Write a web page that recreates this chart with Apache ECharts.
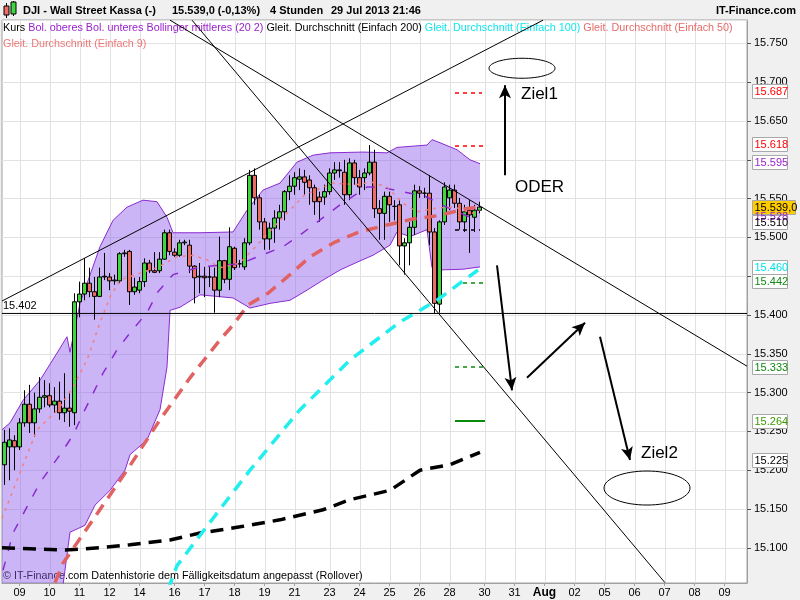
<!DOCTYPE html>
<html><head><meta charset="utf-8">
<script src="https://cdn.jsdelivr.net/npm/echarts/dist/echarts.min.js"></script>
<style>html,body{margin:0;padding:0;background:#f0f0f0}#c{width:800px;height:600px}</style>
</head><body><div id="c"></div><script>
// ---------- DATA ----------
const dayLabels = ['08','09','10','11','12','14','15','16','17','18','19','21','22','23','24','25','26','28','29','30','31','Aug','02','05','06','07','08','09'];
const daySlots  = [3,6,6,6,6,1,6,6,6,6,6,1,6,6,6,6,6,1,6,6,6,6,6,6,6,6,6,5];

// 4h candles: [open, close, low, high]
const candles = [
[15207,15236,15181,15252],[15230,15239,15187,15254],[15238,15230,15200,15245],[15230,15261,15226,15267],
[15261,15285,15256,15303],[15285,15261,15248,15310],[15261,15279,15243,15300],[15279,15294,15274,15320],
[15294,15296,15281,15316],[15296,15284,15281,15312],[15284,15289,15274,15307],[15289,15274,15265,15314],
[15274,15280,15262,15325],[15280,15276,15256,15300],[15274,15417,15258,15428],[15417,15427,15397,15443],
[15427,15441,15419,15473],[15441,15430,15423,15461],[15430,15424,15394,15449],[15424,15449,15423,15461],
[15450,15449,15445,15480],[15449,15444,15432,15454],[15444,15445,15439,15452],[15444,15479,15441,15481],
[15480,15479,15475,15484],[15482,15430,15413,15484],[15430,15436,15426,15448],[15432,15443,15428,15449],
[15443,15467,15436,15473],[15467,15457,15454,15471],[15457,15455,15454,15481],[15457,15472,15454,15481],
[15472,15506,15471,15510],[15506,15482,15477,15510],[15481,15477,15475,15486],[15477,15493,15475,15497],
[15493,15494,15490,15497],[15490,15463,15454,15497],[15463,15448,15415,15464],[15449,15450,15428,15467],
[15450,15448,15423,15462],[15449,15449,15436,15462],[15449,15432,15403,15461],[15432,15470,15423,15501],
[15470,15446,15441,15471],[15446,15488,15432,15513],[15486,15461,15458,15488],[15466,15466,15461,15471],
[15462,15493,15458,15499],[15493,15580,15490,15587],[15580,15551,15542,15589],[15551,15520,15510,15555],
[15520,15498,15484,15525],[15498,15512,15484,15519],[15512,15525,15493,15535],[15525,15533,15510,15542],
[15533,15559,15522,15561],[15559,15566,15548,15580],[15566,15577,15555,15584],[15575,15578,15561,15589],
[15578,15571,15555,15587],[15574,15564,15542,15580],[15564,15546,15529,15568],[15552,15546,15520,15559],
[15552,15559,15542,15568],[15559,15583,15555,15589],[15583,15587,15574,15597],[15587,15586,15577,15597],
[15584,15555,15542,15600],[15555,15596,15548,15602],[15596,15577,15568,15600],[15577,15565,15555,15587],
[15577,15583,15561,15589],[15583,15597,15580,15619],[15597,15537,15525,15613],[15537,15531,15497,15548],
[15531,15553,15497,15559],[15553,15542,15520,15559],[15540,15540,15522,15548],[15542,15489,15464,15548],
[15489,15493,15452,15499],[15493,15513,15464,15520],[15513,15560,15503,15568],[15560,15557,15551,15566],
[15557,15557,15551,15564],[15557,15507,15490,15580],[15507,15415,15402,15512],[15414,15520,15403,15522],
[15520,15565,15516,15571],[15551,15561,15535,15568],[15561,15544,15538,15568],[15544,15520,15510,15551],
[15520,15533,15507,15542],[15535,15529,15480,15548],[15526,15535,15507,15542],[15535,15539,15531,15546]
];

// indicators: [slot, value]
const bbUpper = [[-0.5,15252],[1.1,15261],[3.7,15290],[7.1,15316],[10.5,15351],[12.5,15372],[13.1,15352],[15.1,15415],[19.1,15488],[21.7,15522],[24.5,15539],[27.7,15548],[30.5,15546],[32.5,15526],[33.7,15506],[39.1,15506],[45.7,15507],[48.5,15535],[51.7,15561],[55.1,15570],[58.5,15597],[61.7,15606],[65.1,15609],[71.7,15610],[76.5,15609],[78.5,15616],[84.5,15619],[85.5,15626],[87.1,15622],[90.5,15613],[93.1,15600],[95.1,15595]];
const bbLower = [[-0.5,14870],[5.1,15022],[11.7,15052],[13.1,15120],[16.1,15129],[18.1,15155],[21.1,15174],[24.1,15200],[25.1,15220],[28.5,15239],[31.1,15278],[32.5,15333],[33.1,15406],[35.1,15410],[39.1,15426],[45.7,15422],[49.1,15409],[53.1,15415],[57.1,15419],[60.5,15432],[63.7,15445],[67.1,15458],[70.5,15468],[73.7,15477],[77.1,15490],[78.5,15507],[81.1,15501],[84.5,15510],[85.5,15461],[86.5,15458],[91.7,15459],[95.1,15462]];
const bbMid = [[-0.3,15071],[1.7,15119],[7.1,15184],[11.1,15220],[13.7,15245],[16.1,15278],[19.7,15325],[22.5,15355],[25.1,15377],[28.5,15403],[30.7,15430],[33.7,15452],[39.1,15462],[47.1,15466],[55.7,15488],[59.1,15503],[67.1,15542],[72.5,15565],[75.1,15565],[79.5,15559],[84.1,15553],[88.1,15540],[93.1,15526],[95.1,15528]];
const ma9 = [[-0.5,15138],[2.5,15187],[6.5,15252],[10.7,15278],[13.7,15307],[16.5,15342],[19.1,15390],[21.1,15423],[23.1,15445],[27.1,15454],[30.5,15461],[34.5,15475],[37.7,15477],[40.5,15471],[43.1,15461],[47.1,15467],[50.5,15490],[55.1,15522],[60.1,15555],[65.7,15570],[70.1,15568],[73.5,15571],[76.5,15565],[79.7,15544],[82.5,15533],[86.5,15538],[90.1,15539],[93.5,15531],[95.1,15535]];
const ma50 = [[10.1,15055],[11.7,15080],[18.1,15140],[24.5,15200],[31.1,15265],[37.1,15319],[43.1,15368],[45.7,15387],[48.7,15413],[52.7,15428],[57.1,15452],[61.1,15475],[66.1,15494],[70.9,15507],[76.5,15516],[81.9,15524],[86.7,15528],[92.3,15537],[94.7,15539]];
const ma100 = [[32.7,15046],[34.5,15077],[39.1,15116],[49.1,15200],[59.1,15278],[69.1,15342],[79.1,15391],[86.5,15419],[91.1,15441],[94.7,15458]];
const ma200 = [[-0.5,15100],[12.1,15097],[19.1,15100],[25.1,15104],[33.1,15110],[39.1,15119],[47.1,15127],[55.1,15136],[63.7,15149],[69.1,15162],[77.1,15174],[83.1,15200],[89.1,15207],[95.1,15223]];

// drawn analysis (slot, value)
const supportLevel = 15402;
const trendLines = [[[-0.5,15418],[107.7,15780]],[[33.1,15780],[148.5,15334]],[[37.5,15780],[132.1,15055]]];
const arrows = [[[100.1,15580],[100.1,15696]],[[98.5,15464],[101.5,15303]],[[104.5,15319],[116.1,15390]],[[119.1,15372],[125.1,15213]]];
const levelMarks = [[15687,90.1,95.5,'red','dashed'],[15618,90.1,96.1,'red','dashed'],[15510,90.1,95.1,'black','dashed'],[15442,91.7,96.1,'green','dashed'],[15333,90.1,96.1,'green','dashed'],[15264,90.1,96.1,'green','solid']];
const noteTexts = [['Ziel1',103.3,15684],['ODER',102.1,15565],['Ziel2',127.3,15222]];
const targetEllipses = [[103.5,15718,33,10],[128.5,15177,43,17]];
const priceBoxes = [[15687,'#ff0000',-1.5],[15618,'#ff0000',-1.5],[15595,'#9a22cc',-1.5],[15528,'#9a22cc',0],[15510,'#000000',-8],[15460,'#00e0e8',-1.5],[15442,'#108a10',-1],[15333,'#108a10',0],[15264,'#3a9a00',0],[15225,'#000000',9]];
const lastPrice = 15539;

// ---------- CHART ----------
const Y_MIN = 15054.6, Y_MAX = 15780.2;
const chart = echarts.init(document.getElementById('c'));
const cats = [], tickLabel = {};
let n = 0;
dayLabels.forEach((d, i) => {
  const start = n;
  for (let j = 0; j < daySlots[i]; j++) cats.push(String(n++));
  if (i > 0 && daySlots[i-1] > 1) tickLabel[start] = d;
});
const tickIdx = Object.keys(tickLabel).map(Number);
const fmt = v => (v/1000).toFixed(3);

const lineS = (data, color, width, type, z) => ({
  type:'line', xAxisIndex:1, yAxisIndex:0, data, symbol:'none', showSymbol:false,
  lineStyle:{color, width, type}, z: z || 4, silent:true, animation:false
});

const markData = [];
trendLines.forEach(t => markData.push([{coord:t[0], symbol:'none'},{coord:t[1], symbol:'none', lineStyle:{color:'#000', width:1, type:'solid'}}]));
arrows.forEach(a => markData.push([{coord:a[0], symbol:'none'},{coord:a[1], symbol:'arrow', symbolSize:[9,13], lineStyle:{color:'#000', width:2, type:'solid'}}]));
const lvlColor = {red:'#ff0000', black:'#000000', green:'#0a8a0a'};
levelMarks.forEach(l => markData.push([{coord:[l[1], l[0]], symbol:'none'},{coord:[l[2], l[0]], symbol:'none', lineStyle:{color:lvlColor[l[3]], width: l[4]==='solid'?2:1.5, type: l[4]==='solid'?'solid':[4,4]}}]));

const option = {
  animation:false,
  backgroundColor:'#f0f0f0',
  grid:{left:2, right:53, top:20, bottom:17, show:true, backgroundColor:'#ffffff', borderColor:'#a0a0a0', borderWidth:1},
  xAxis:[{
    type:'category', data:cats, boundaryGap:true,
    axisLine:{show:true, onZero:false, lineStyle:{color:'#a0a0a0'}},
    axisTick:{show:true, alignWithLabel:true, interval:(i)=>tickLabel[i]!==undefined, length:3, lineStyle:{color:'#a0a0a0'}},
    axisLabel:{interval:(i)=>tickLabel[i]!==undefined, margin:4, fontSize:11, fontFamily:'Arial', color:'#000',
      formatter:(v,i)=>{const t = tickLabel[i]; return t==='Aug' ? '{b|Aug}' : (t||'');},
      rich:{b:{fontWeight:'bold', fontSize:12, fontFamily:'Arial', color:'#000'}}},
    splitLine:{show:false}
  },{
    type:'value', min:-0.5, max:148.5, show:false, splitLine:{show:false}, axisLine:{onZero:false}
  }],
  yAxis:[{
    type:'value', position:'right', min:Y_MIN, max:Y_MAX, splitNumber:14, minInterval:50, maxInterval:50, scale:true,
    axisLine:{show:true, onZero:false, lineStyle:{color:'#a0a0a0'}},
    axisTick:{show:true, length:4, lineStyle:{color:'#555'}},
    axisLabel:{showMinLabel:false, showMaxLabel:false, formatter:fmt, fontSize:11, fontFamily:'Arial', color:'#000', margin:7},
    splitLine:{show:true, lineStyle:{color:'#e2e2e2', width:1}}
  }],
  series:[
    { type:'custom', xAxisIndex:1, yAxisIndex:0, z:0, silent:true, data: tickIdx.map(i=>[i,15400]),
      renderItem:(params, api)=>{ const x = Math.round(api.coord([api.value(0),15400])[0])+0.5; const cs = params.coordSys;
        return {type:'line', shape:{x1:x,y1:cs.y,x2:x,y2:cs.y+cs.height}, style:{stroke:'#e2e2e2', lineWidth:1}}; } },
    { type:'custom', xAxisIndex:1, yAxisIndex:0, z:1, silent:true, clip:true, data:[[0,15400]],
      renderItem:(params, api)=>{ const cl = v=>Math.max(Y_MIN, Math.min(Y_MAX, v));
        const pts = bbUpper.map(p=>api.coord([p[0], cl(p[1])])).concat(bbLower.slice().reverse().map(p=>api.coord([p[0], cl(p[1])])));
        return {type:'polygon', shape:{points:pts}, style:{fill:'rgba(140,90,238,0.45)', stroke:'none'}}; } },
    lineS(bbUpper, '#8a2bd0', 1, 'solid', 2),
    lineS(bbLower, '#8a2bd0', 1, 'solid', 2),
    { type:'candlestick', xAxisIndex:0, yAxisIndex:0, data:candles, barWidth:4, z:3, silent:true,
      itemStyle:{color:'#3fd63f', color0:'#ee6b66', borderColor:'#000', borderColor0:'#000', borderColorDoji:'#000', borderWidth:1} },
    lineS(bbMid, '#8a2bd0', 1.5, [9,11], 4),
    lineS(ma9, '#f08080', 1.5, [3,5], 4),
    lineS(ma200, '#000000', 3.5, [13,8], 4),
    lineS(ma100, '#22eeee', 3.5, [12,8], 4),
    lineS(ma50, '#e06262', 3.5, [12,8], 4),
    Object.assign(lineS([[-0.5,supportLevel],[148.5,supportLevel]], '#000', 1, 'solid', 5), {
      markLine:{silent:true, animation:false, symbol:'none', label:{show:false}, lineStyle:{color:'#000', width:1, type:'solid'}, data:markData}
    })
  ]
};
chart.setOption(option);

// ---------- TEXT / OVERLAYS ----------
const P = (s,v)=>chart.convertToPixel({xAxisIndex:1, yAxisIndex:0},[s,v]);
const PY = v=>chart.convertToPixel({yAxisIndex:0}, v);
const g = [];
g.push({type:'line', shape:{x1:6.5,y1:3,x2:6.5,y2:18}, style:{stroke:'#000', lineWidth:1}});
g.push({type:'rect', shape:{x:4,y:6,width:5,height:9}, style:{fill:'#ee6b66', stroke:'#000', lineWidth:1}});
g.push({type:'line', shape:{x1:13.5,y1:1,x2:13.5,y2:16}, style:{stroke:'#000', lineWidth:1}});
g.push({type:'rect', shape:{x:11,y:2,width:5,height:12}, style:{fill:'#3fd63f', stroke:'#000', lineWidth:1}});
const hdr = (t,x,align)=>g.push({type:'text', style:{text:t, x, y:11, font:'bold 11px Arial', fill:'#000', verticalAlign:'middle', align:align||'left'}});
hdr('DJI - Wall Street Kassa (-)', 23); hdr('15.539,0 (-0,13%)', 172); hdr('4 Stunden', 270); hdr('29 Jul 2013 21:46', 331); hdr('IT-Finance.com', 796, 'right');
g.push({type:'text', style:{x:3, y:28, verticalAlign:'middle', font:'10.8px Arial', fill:'#000',
  text:'{k|Kurs} {p|Bol. oberes Bol. unteres Bollinger mittleres (20 2)} {k|Gleit. Durchschnitt (Einfach 200)} {c|Gleit. Durchschnitt (Einfach 100)} {r|Gleit. Durchschnitt (Einfach 50)}',
  rich:{k:{fill:'#000', font:'10.8px Arial'}, p:{fill:'#9a22cc', font:'10.8px Arial'}, c:{fill:'#10e6ee', font:'10.8px Arial'}, r:{fill:'#e86a6a', font:'10.8px Arial'}}}});
g.push({type:'text', style:{x:3, y:44, verticalAlign:'middle', font:'10.8px Arial', fill:'#ee7878', text:'Gleit. Durchschnitt (Einfach 9)'}});
g.push({type:'text', style:{x:3, y:576, verticalAlign:'middle', font:'10.8px Arial', fill:'#000', text:'\u00a9 IT-Finance.com Datenhistorie dem F\u00e4lligkeitsdatum angepasst (Rollover)'}});
g.push({type:'text', style:{x:3, y:PY(supportLevel)-7, verticalAlign:'middle', font:'11px Arial', fill:'#000', text:fmt(supportLevel)}});
noteTexts.forEach(t=>{ const p = P(t[1],t[2]); g.push({type:'text', style:{x:p[0], y:p[1], text:t[0], font:'17px Arial', fill:'#000', verticalAlign:'middle'}}); });
targetEllipses.forEach(e=>{ const p = P(e[0],e[1]); g.push({type:'ellipse', shape:{cx:p[0], cy:p[1], rx:e[2], ry:e[3]}, style:{fill:'none', stroke:'#000', lineWidth:1}}); });
const box = (v, color, dy, label, fill, w)=>{ const y = PY(v)+dy;
  g.push({type:'rect', shape:{x:752.5, y:Math.round(y-7)+0.5, width:w, height:14}, style:{fill, stroke:'#a8a8a8', lineWidth:1}, z:10});
  g.push({type:'text', style:{x:754.5, y:Math.round(y)+0.5, text:label, font:'11px Arial', fill:color, verticalAlign:'middle'}, z:11}); };
priceBoxes.forEach(b=>{ if (b[0]===15510 || b[0]>15539 || b[0]===15528) box(b[0], b[1], b[2], fmt(b[0]), '#ffffff', 35); });
box(lastPrice, '#000', 0, '15.539,0', '#ffcc00', 43);
priceBoxes.forEach(b=>{ if (b[0]<15510) box(b[0], b[1], b[2], fmt(b[0]), '#ffffff', 35); });
chart.setOption({graphic:g});
</script></body></html>
